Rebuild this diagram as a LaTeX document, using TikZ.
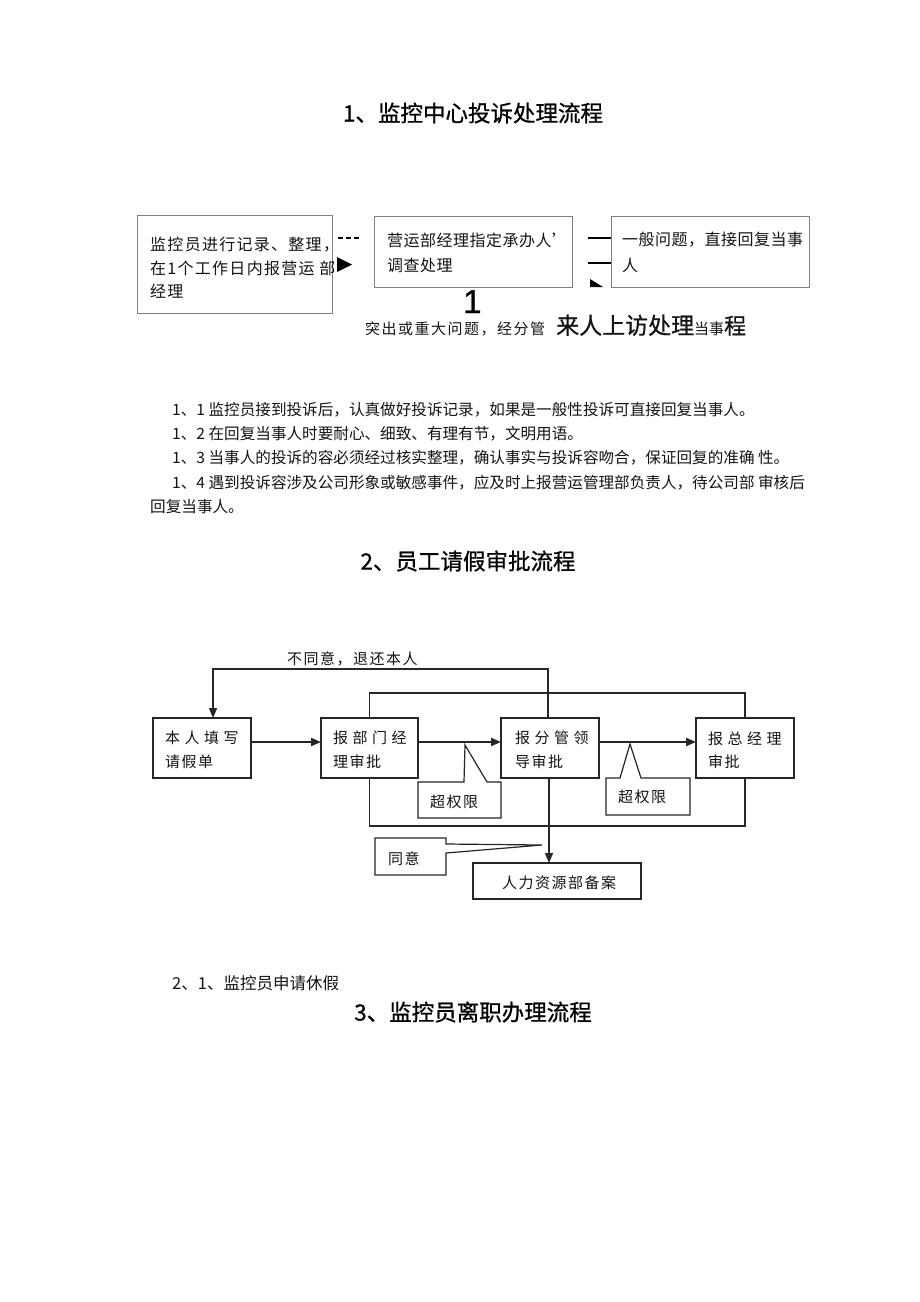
\documentclass[tikz,border=0pt]{standalone}
\usepackage{fontspec}
\setmainfont{Noto Sans CJK SC}
\newfontfamily\cjk{Noto Sans CJK SC}
\newfontfamily\cjkh[FakeBold=0.8]{Noto Sans CJK SC}
\newfontfamily\cjks[LetterSpace=3]{Noto Sans CJK SC}
\newfontfamily\cjkt[LetterSpace=8]{Noto Sans CJK SC}
\newfontfamily\cjkn[LetterSpace=10]{Noto Sans CJK SC}
\newfontfamily\cjkw[LetterSpace=30]{Noto Sans CJK SC}
\newfontfamily\latn[FakeBold=1.2]{Liberation Sans}
\usetikzlibrary{arrows.meta,calc}
\newcommand\fsz[1]{\fontsize{#1}{#1}\selectfont}
\begin{document}
\begin{tikzpicture}[x=1pt,y=-1pt,
  tbox/.style={draw=black!50,line width=0.9pt,inner sep=0pt,outer sep=0pt},
  fbox/.style={draw=black!85,line width=1.2pt,inner sep=0pt,outer sep=0pt},
  txt/.style={inner sep=0pt,anchor=west,text=black!92},
  ttl/.style={inner sep=0pt,font=\cjkh\fsz{22.5},text=black},
  wire/.style={draw=black!85,line width=1.2pt},
  flow/.style={draw=black!85,line width=2pt,-{Triangle[length=10pt,width=8pt]}},
  down/.style={draw=black!85,line width=1.4pt,-{Triangle[length=10pt,width=8pt]}},
  callout/.style={draw=black!85,line width=1.2pt,fill=white}
]
\useasboundingbox[fill=white] (0,0) rectangle (920,1302);

% ---------- title 1
\node[ttl] (title1) at (473,113) {1、监控中心投诉处理流程};

% ---------- top flow
\node[tbox,minimum width=195pt,minimum height=98pt] (a1) at (234.5,264) {};
\node[tbox,minimum width=198pt,minimum height=71pt] (a2) at (473,251.5) {};
\node[tbox,minimum width=198pt,minimum height=71pt] (a3) at (710,251.5) {};

\node[txt,font=\cjkt\fsz{16}] (a1l1) at (150,245) {监控员进行记录、整理，};
\node[txt,font=\cjkt\fsz{16}] (a1l2) at (150,268) {在1个工作日内报营运 部};
\node[txt,font=\cjkt\fsz{16}] (a1l3) at (150,291) {经理};
\node[txt,font=\cjks\fsz{16}] (a2l1) at (387,240) {营运部经理指定承办人’};
\node[txt,font=\cjks\fsz{16}] (a2l2) at (387,265) {调查处理};
\node[txt,font=\cjks\fsz{16}] (a3l1) at (622,240) {一般问题，直接回复当事};
\node[txt,font=\cjks\fsz{16}] (a3l2) at (622,265) {人};

% broken connector pieces
\coordinate (d1s) at (338,238);
\coordinate (d1e) at (361,238);
\draw[draw=black,line width=2pt,dash pattern=on 5pt off 3pt] (d1s) -- (d1e);
\fill[black] (337,257) -- (352,264.5) -- (337,272) -- cycle;
\coordinate (l1s) at (588,238);
\coordinate (l1e) at (a3.west |- l1s);
\coordinate (l2s) at (588,263);
\coordinate (l2e) at (a3.west |- l2s);
\draw[draw=black,line width=1.3pt] (l1s) -- (l1e);
\draw[draw=black,line width=1.3pt] (l2s) -- (l2e);
\fill[black] (590,279) -- (603,287) -- (590,287) -- cycle;

\node[inner sep=0pt,anchor=base west,font=\latn\fsz{33},text=black] (one) at (463,313) {1};
\node[inner sep=0pt,anchor=base west,text=black!92] (note) at (365,334)
  {{\cjkn\fsz{15}突出或重大问题，经分管}\hspace{11pt}{\cjkh\fsz{23}来人上访处理}{\cjk\fsz{15}当事}{\cjkh\fsz{22}程}};

% ---------- paragraph
\node[txt,font=\cjk\fsz{15.6}] (p1) at (172,410) {1、1 监控员接到投诉后，认真做好投诉记录，如果是一般性投诉可直接回复当事人。};
\node[txt,font=\cjk\fsz{15.6}] (p2) at (172,434) {1、2 在回复当事人时要耐心、细致、有理有节，文明用语。};
\node[txt,font=\cjk\fsz{15.6}] (p3) at (172,458) {1、3 当事人的投诉的容必须经过核实整理，确认事实与投诉容吻合，保证回复的准确 性。};
\node[txt,font=\cjk\fsz{15.6}] (p4) at (172,483) {1、4 遇到投诉容涉及公司形象或敏感事件，应及时上报营运管理部负责人，待公司部 审核后};
\node[txt,font=\cjk\fsz{15.6}] (p5) at (150,507) {回复当事人。};

% ---------- title 2
\node[ttl] (title2) at (468,561) {2、员工请假审批流程};

% ---------- leave flow
\node[fbox,minimum width=98pt,minimum height=60pt] (b1) at (202,748) {};
\node[fbox,minimum width=97pt,minimum height=60pt] (b2) at (369.5,748) {};
\node[fbox,minimum width=98pt,minimum height=60pt] (b3) at (550,748) {};
\node[fbox,minimum width=98pt,minimum height=60pt] (b4) at (745,748) {};
\node[fbox,minimum width=168pt,minimum height=36pt] (hr) at (557,881) {};

\node[txt,font=\cjkw\fsz{15}] (b1l1) at (165,738) {本人填写};
\node[txt,font=\cjkn\fsz{15}] (b1l2) at (165,762) {请假单};
\node[txt,font=\cjkw\fsz{15}] (b2l1) at (333,738) {报部门经};
\node[txt,font=\cjkn\fsz{15}] (b2l2) at (333,762) {理审批};
\node[txt,font=\cjkw\fsz{15}] (b3l1) at (515,738) {报分管领};
\node[txt,font=\cjkn\fsz{15}] (b3l2) at (515,762) {导审批};
\node[txt,font=\cjkw\fsz{15}] (b4l1) at (708,739) {报总经理};
\node[txt,font=\cjkn\fsz{15}] (b4l2) at (708,762) {审批};
\node[txt,font=\cjkn\fsz{15}] (hrl) at (502,883) {人力资源部备案};

% arrows between boxes
\draw[flow] ($(b1.east)+(0,-6)$) -- ($(b2.west)+(0,-6)$);
\draw[flow] ($(b2.east)+(0,-6)$) -- ($(b3.west)+(0,-6)$);
\draw[flow] ($(b3.east)+(0,-6)$) -- ($(b4.west)+(0,-6)$);

% outer loop
\draw[wire] (b2.north) -- (b2.north |- 0,693) -| (b4.north);
\draw[wire] (b2.south) -- (b2.south |- 0,826) -| (b4.south);

% return (not agreed) and down to HR
\coordinate (topr) at ($(b3.north)+(-2,0)$);
\coordinate (b1in) at ($(b1.north)+(11,0)$);
\draw[down] (topr) -- (topr |- 0,669) -| (b1in);
\coordinate (botr) at ($(b3.south)+(-1,0)$);
\draw[down] (botr) -- (botr |- hr.north);
\node[txt,font=\cjkn\fsz{15}] (reject) at (287,659) {不同意，退还本人};

% callouts
\draw[callout] (418,782) -- (464,782) -- (465,745) -- (487,782) -- (501,782) -- (501,818) -- (418,818) -- cycle;
\node[txt,font=\cjkn\fsz{15}] (c1) at (430,802) {超权限};
\draw[callout] (606,778) -- (620,778) -- (630,744) -- (641,778) -- (690,778) -- (690,815) -- (606,815) -- cycle;
\node[txt,font=\cjkn\fsz{15}] (c2) at (618,797) {超权限};
\draw[callout] (375,838) -- (446,838) -- (446,844) -- (542,845) -- (446,853) -- (446,875) -- (375,875) -- cycle;
\node[txt,font=\cjkn\fsz{15}] (c3) at (388,859) {同意};

% ---------- tail
\node[txt,font=\cjk\fsz{16.5}] (s21) at (172,983) {2、1、监控员申请休假};
\node[ttl] (title3) at (473,1012) {3、监控员离职办理流程};
\end{tikzpicture}
\end{document}
